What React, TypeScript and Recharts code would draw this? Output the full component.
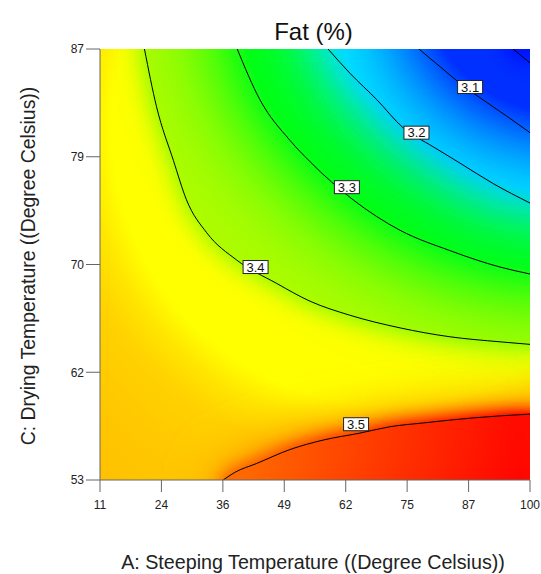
import React from 'react';
import { ComposedChart, Area, Line, Scatter, XAxis, YAxis, CartesianGrid } from 'recharts';

const FONT = '"Liberation Sans", Arial, sans-serif';

const xTicks = [11, 23.71, 36.43, 49.14, 61.86, 74.57, 87.29, 100];
const xTickLabels = ['11', '24', '36', '49', '62', '75', '87', '100'];
const yTicks = [53, 61.5, 70, 78.5, 87];
const yTickLabels = ['53', '62', '70', '79', '87'];

// contour lines of Fat (%) (x = steeping temp, y = drying temp)
const fat30 = [
  { x: 96.5, y: 87 }, { x: 98.1, y: 86.5 }, { x: 100, y: 85.9 },
];
const fat31 = [
  { x: 77.0, y: 87 }, { x: 81.4, y: 85.6 }, { x: 85.5, y: 84.3 }, { x: 91.0, y: 82.8 },
  { x: 95.2, y: 81.7 }, { x: 100, y: 80.4 },
];
const fat32 = [
  { x: 58.2, y: 87 }, { x: 62.7, y: 85.1 }, { x: 68.3, y: 83.0 }, { x: 73.7, y: 80.8 },
  { x: 79.9, y: 79.3 }, { x: 85.5, y: 78.0 }, { x: 92.3, y: 76.4 }, { x: 100, y: 74.85 },
];
const fat33 = [
  { x: 39.4, y: 87 }, { x: 44.1, y: 83.0 }, { x: 50.3, y: 79.8 }, { x: 54.5, y: 78.1 },
  { x: 63.4, y: 75.1 }, { x: 73.1, y: 72.7 }, { x: 83.4, y: 71.1 }, { x: 93.8, y: 69.8 },
  { x: 100, y: 69.25 },
];
const fat34 = [
  { x: 20.2, y: 87 }, { x: 22.7, y: 82.45 }, { x: 26.2, y: 78.2 }, { x: 28.9, y: 75.1 },
  { x: 33.1, y: 72.5 }, { x: 39.3, y: 70.35 }, { x: 47.6, y: 68.5 }, { x: 54.5, y: 67.1 },
  { x: 62.7, y: 66.0 }, { x: 73.1, y: 65.0 }, { x: 83.4, y: 64.3 }, { x: 93.8, y: 63.9 },
  { x: 100, y: 63.7 },
];
const fat35 = [
  { x: 36.5, y: 53 }, { x: 38.9, y: 53.6 }, { x: 43.4, y: 54.3 }, { x: 50.3, y: 55.4 },
  { x: 57.2, y: 56.15 }, { x: 64.8, y: 56.7 }, { x: 71.0, y: 57.2 }, { x: 77.9, y: 57.5 },
  { x: 88.3, y: 57.9 }, { x: 100, y: 58.2 },
];

const contourLabels = [
  { x: 87.6, y: 84.0, text: '3.1' },
  { x: 76.5, y: 80.4, text: '3.2' },
  { x: 62.1, y: 76.1, text: '3.3' },
  { x: 43.2, y: 69.8, text: '3.4' },
  { x: 64.0, y: 57.4, text: '3.5' },
];

// filled regions, painted in order; each one is softened outward by a blur filter
// dir: which plot edges the region touches (up = top/right, down = bottom/right)
const bands = [
  { data: fat35, base: 45, fill: '#ffa000', soft: 28, dir: 'down' },
  { data: fat35, base: 45, fill: 'url(#redCore)', soft: 10, dir: 'down' },
  { data: fat34, base: 95, fill: '#b0fc00', soft: 14, dir: 'up' },
  { data: fat33, base: 95, fill: '#00ff10', soft: 56, dir: 'up' },
  { data: fat32, base: 95, fill: '#00f0ff', soft: 42, dir: 'up' },
  { data: fat31, base: 95, fill: '#0030ff', soft: 58, dir: 'up' },
  { data: fat30, base: 95, fill: '#0000ff', soft: 14, dir: 'up' },
];
const contours = [fat30, fat31, fat32, fat33, fat34, fat35];

const filterKeys = Array.from(new Set(bands.map((b) => b.dir + b.soft)));

// blur with the region smeared past the plot edges first, so edges do not fade
const SoftFilter = ({ dir, soft }: { dir: string; soft: number }) => {
  const v = dir === 'up' ? -1 : 1;
  return (
    <filter
      id={'soft-' + dir + soft}
      filterUnits="userSpaceOnUse"
      x={0}
      y={-300}
      width={800}
      height={1200}
      colorInterpolationFilters="sRGB"
    >
      <feOffset in="SourceGraphic" dy={40 * v} result="o1" />
      <feMerge result="m1"><feMergeNode in="o1" /><feMergeNode in="SourceGraphic" /></feMerge>
      <feOffset in="m1" dy={80 * v} result="o2" />
      <feMerge result="m2"><feMergeNode in="o2" /><feMergeNode in="m1" /></feMerge>
      <feOffset in="m2" dx={40} result="o3" />
      <feMerge result="m3"><feMergeNode in="o3" /><feMergeNode in="m2" /></feMerge>
      <feOffset in="m3" dx={80} result="o4" />
      <feMerge result="m4"><feMergeNode in="o4" /><feMergeNode in="m3" /></feMerge>
      <feGaussianBlur in="m4" stdDeviation={soft} />
      <feComponentTransfer>
        <feFuncA type="linear" slope={2} />
      </feComponentTransfer>
    </filter>
  );
};

const LabelBox = (props: any) => {
  const { cx, cy, payload } = props;
  return (
    <g>
      <rect x={cx - 12.5} y={cy - 6.5} width={25} height={13} fill="#fff" stroke="#222" strokeWidth={1} />
      <text x={cx} y={cy + 4.7} textAnchor="middle" fontSize={13} fontFamily={FONT} fill="#111">
        {payload.text}
      </text>
    </g>
  );
};

export default function App() {
  const tickStyle = { fontSize: 12, fill: '#222', fontFamily: FONT };
  const css = filterKeys
    .map((k) => `.soft-${k} .recharts-area-area { filter: url(#soft-${k}); }`)
    .join('\n');
  return (
    <div style={{ position: 'absolute', left: 0, top: 0, width: 541, height: 574, background: '#fff' }}>
      <style>{css}</style>
      <svg width={0} height={0} style={{ position: 'absolute' }}>
        <defs>
          {bands
            .filter((b, i) => bands.findIndex((o) => o.dir + o.soft === b.dir + b.soft) === i)
            .map((b) => (
              <SoftFilter key={b.dir + b.soft} dir={b.dir} soft={b.soft} />
            ))}
          <radialGradient id="fatBase" gradientUnits="userSpaceOnUse" cx={388} cy={129} r={460}>
            <stop offset="0" stopColor="#ffff00" />
            <stop offset="0.6" stopColor="#ffff00" />
            <stop offset="0.66" stopColor="#ffe600" />
            <stop offset="0.73" stopColor="#ffd200" />
            <stop offset="0.85" stopColor="#ffc800" />
            <stop offset="1" stopColor="#ffc000" />
          </radialGradient>
          <linearGradient id="redCore" gradientUnits="userSpaceOnUse" x1={250} y1={430} x2={530} y2={490}>
            <stop offset="0" stopColor="#ff6a00" />
            <stop offset="1" stopColor="#ff0000" />
          </linearGradient>
        </defs>
      </svg>
      <ComposedChart width={541} height={574} margin={{ top: 49, right: 11, bottom: 54, left: 40 }}>
        <CartesianGrid fill="url(#fatBase)" stroke="none" />
        <XAxis
          dataKey="x"
          type="number"
          domain={[11, 100]}
          ticks={xTicks}
          interval={0}
          allowDataOverflow
          tickFormatter={(v: number) => xTickLabels[xTicks.indexOf(v)]}
          height={40}
          tickSize={12}
          tickMargin={8}
          stroke="#666"
          tick={tickStyle}
        />
        <YAxis
          type="number"
          domain={[53, 87]}
          ticks={yTicks}
          interval={0}
          allowDataOverflow
          tickFormatter={(v: number) => yTickLabels[yTicks.indexOf(v)]}
          width={60}
          tickSize={14}
          tickMargin={2}
          stroke="#666"
          tick={tickStyle}
        />
        <XAxis xAxisId="top" orientation="top" type="number" domain={[11, 100]} height={0} tick={false} tickLine={false} stroke="#666" />
        <YAxis yAxisId="right" orientation="right" type="number" domain={[53, 87]} width={0} tick={false} tickLine={false} stroke="#666" />

        {bands.map((b, i) => (
          <Area
            key={'band' + i}
            data={b.data}
            dataKey="y"
            type="monotone"
            baseValue={b.base}
            fill={b.fill}
            fillOpacity={1}
            stroke="none"
            className={'soft-' + b.dir + b.soft}
            isAnimationActive={false}
          />
        ))}
        {contours.map((c, i) => (
          <Line
            key={'c' + i}
            data={c}
            dataKey="y"
            type="monotone"
            stroke="#000"
            strokeWidth={1}
            dot={false}
            activeDot={false}
            isAnimationActive={false}
          />
        ))}
        <Scatter data={contourLabels} dataKey="y" shape={LabelBox} isAnimationActive={false} />
      </ComposedChart>

      <svg width={541} height={574} style={{ position: 'absolute', left: 0, top: 0, pointerEvents: 'none' }}>
        <text x={313.5} y={40} textAnchor="middle" fontSize={24} fontFamily={FONT} fill="#111">Fat (%)</text>
        <text x={313} y={569} textAnchor="middle" fontSize={19.7} fontFamily={FONT} fill="#222">
          A: Steeping Temperature ((Degree Celsius))
        </text>
        <text
          x={35}
          y={266}
          textAnchor="middle"
          fontSize={19.4}
          fontFamily={FONT}
          fill="#222"
          transform="rotate(-90 35 266)"
        >
          C: Drying Temperature ((Degree Celsius))
        </text>
      </svg>
    </div>
  );
}
